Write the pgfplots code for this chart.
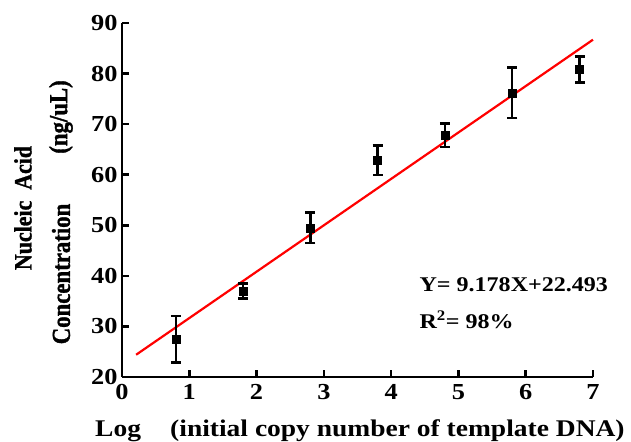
\documentclass[border=0pt]{standalone}
\usepackage{fontspec}
\setmainfont[FakeStretch=1.15]{Liberation Serif}
\newfontfamily\rotfont[FakeStretch=0.88, FakeBold=1.2]{Liberation Serif Bold}
\usepackage{pgfplots}
\pgfplotsset{compat=1.18}
\begin{document}
\begin{tikzpicture}[x=1bp,y=1bp]
\useasboundingbox (-122,-65) rectangle (509,377);
\begin{axis}[
  at={(0,0)}, anchor=south west,
  scale only axis, width=471bp, height=354bp,
  xmin=0, xmax=7, ymin=20, ymax=90,
  xtick={0,1,...,7}, ytick={20,30,...,90},
  axis x line*=bottom, axis y line*=left,
  every outer x axis line/.style={line width=2.8bp},
  every outer y axis line/.style={line width=2.8bp},
  axis line style={line width=2.8bp},
  tick align=inside, major tick length=7bp,
  major tick style={line width=2.6bp, black},
  tick label style={font=\bfseries\fontsize{23}{23}\selectfont},
  /pgf/number format/assume math mode=true,
  xticklabel style={yshift=-4bp},
  yticklabel style={xshift=-1bp},
  clip=false,
]
\addplot[red, line width=2.2bp] coordinates {(0.21,24.4) (7.0,86.7)};
\addplot[black, only marks, mark=square*, mark size=4bp,
  error bars/.cd, y dir=both, y explicit,
  error bar style={line width=2.4bp},
  error mark options={rotate=90, mark size=5bp, line width=2.4bp}]
  coordinates {
  (0.8,27.5) +- (0,4.6)
  (1.8,37.0) +- (0,1.5)
  (2.8,49.5) +- (0,3.0)
  (3.8,62.9) +- (0,2.9)
  (4.8,67.8) +- (0,2.3)
  (5.8,76.2) +- (0,5.0)
  (6.8,80.8) +- (0,2.6)
  };
\end{axis}
\node[anchor=west, font=\bfseries\fontsize{21}{21}\selectfont] at (294,92) {Y= 9.178X+22.493};
\node[anchor=west, font=\bfseries\fontsize{21}{21}\selectfont] at (294,57) {R\textsuperscript{2}= 98\%};
\node[anchor=base west, inner sep=0pt, font=\bfseries\fontsize{24}{24}\selectfont] at (-27,-60) {Log};
\node[anchor=base west, inner sep=0pt, font=\bfseries\fontsize{24}{24}\selectfont] at (48,-60) {(initial copy number of template DNA)};
\node[rotate=90, inner sep=0pt, font=\rotfont\fontsize{25}{25}\selectfont] at (-99,169) {Nucleic\ \ Acid};
\node[rotate=90, inner sep=0pt, font=\rotfont\fontsize{26}{26}\selectfont] at (-61,103) {Concentration};
\node[rotate=90, inner sep=0pt, font=\rotfont\fontsize{26}{26}\selectfont] at (-61,260) {(ng/uL)};
\end{tikzpicture}
\end{document}
